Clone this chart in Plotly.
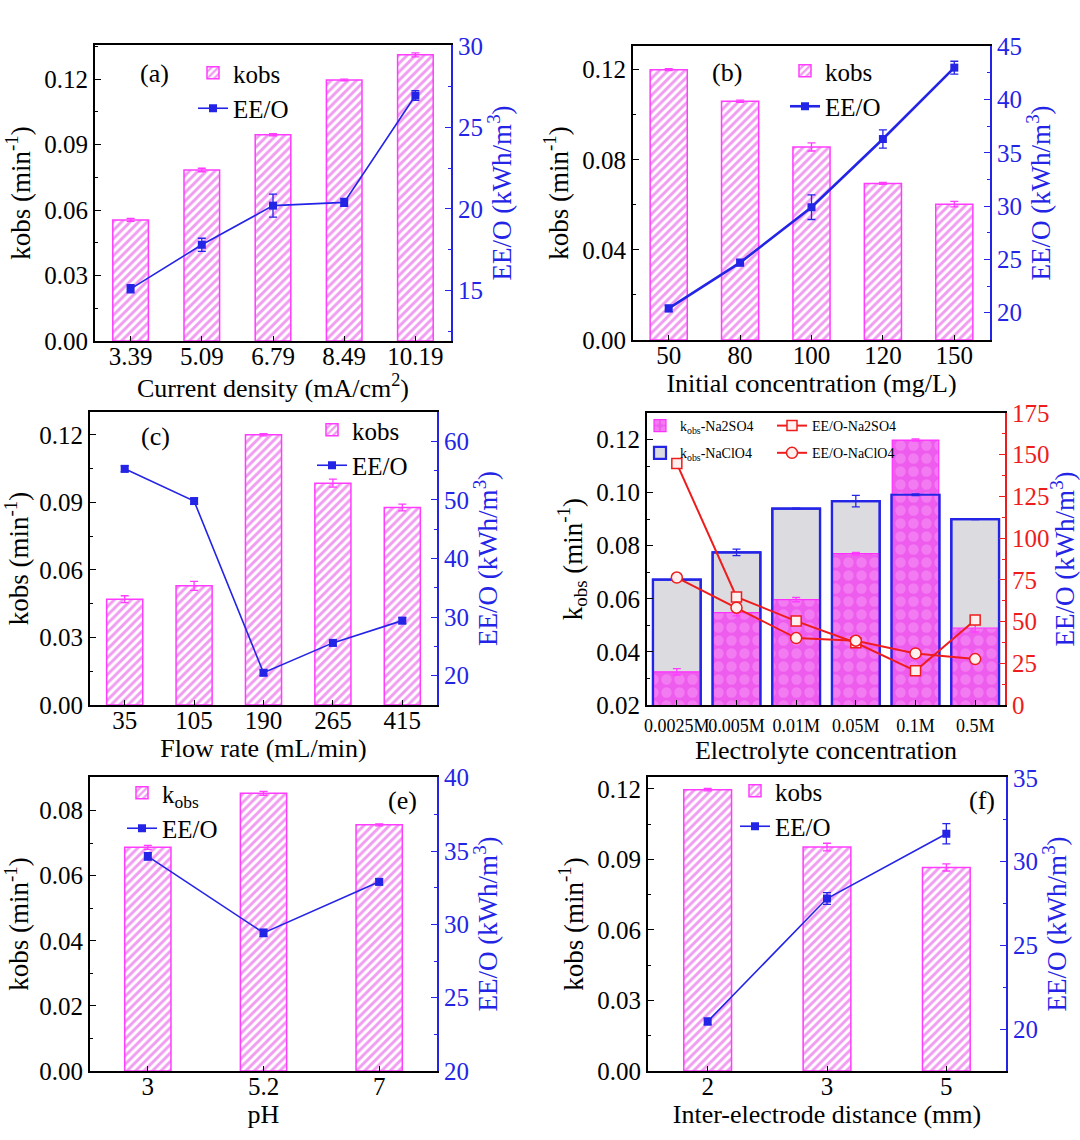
import plotly.graph_objects as go

W, H = 1080, 1140
FONT = "Liberation Serif"
BLUE = "#2424E6"
RED = "#EE1C1C"
MAG = "#E23AE2"
MAGB = "#FF3CFF"

# ---------------- data ----------------
a_cat = ["3.39", "5.09", "6.79", "8.49", "10.19"]
a_k = [0.0555, 0.0784, 0.0946, 0.1197, 0.1312]
a_k_err = [0.0007, 0.0008, 0.0005, 0.0004, 0.0009]
a_ee = [15.1, 17.8, 20.2, 20.4, 26.95]
a_ee_err = [0.25, 0.4, 0.7, 0.25, 0.3]

b_cat = ["50", "80", "100", "120", "150"]
b_k = [0.1200, 0.1060, 0.0857, 0.0695, 0.0603]
b_k_err = [0.0004, 0.0005, 0.0018, 0.0004, 0.0012]
b_ee = [20.4, 24.7, 29.9, 36.3, 43.0]
b_ee_err = [0.3, 0.3, 1.15, 0.85, 0.6]

c_cat = ["35", "105", "190", "265", "415"]
c_k = [0.0470, 0.0529, 0.1200, 0.0985, 0.0877]
c_k_err = [0.0015, 0.0020, 0.0005, 0.0018, 0.0015]
c_ee = [55.3, 49.8, 20.5, 25.6, 29.4]
c_ee_err = [0.5, 0.5, 0.5, 0.5, 0.5]

d_cat = ["0.0025M", "0.005M", "0.01M", "0.05M", "0.1M", "0.5M"]
d_k_na2so4 = [0.0325, 0.0548, 0.0597, 0.0770, 0.1198, 0.0490]
d_k_na2so4_err = [0.0012, 0.0012, 0.0008, 0.0005, 0.0004, 0.0015]
d_k_naclo4 = [0.0672, 0.0775, 0.0940, 0.0968, 0.0992, 0.0900]
d_k_naclo4_err = [0.0004, 0.0012, 0.0002, 0.0022, 0.0003, 0.0002]
d_ee_na2so4 = [144.7, 64.8, 50.3, 37.3, 20.5, 50.9]
d_ee_naclo4 = [76.4, 58.3, 40.1, 38.5, 30.9, 27.5]
d_ee_err = [1.5, 1.5, 1.5, 1.5, 1.5, 1.5]

e_cat = ["3", "5.2", "7"]
e_k = [0.0687, 0.0853, 0.0756]
e_k_err = [0.0006, 0.0006, 0.0003]
e_ee = [34.64, 29.42, 32.9]
e_ee_err = [0.25, 0.25, 0.2]

f_cat = ["2", "3", "5"]
f_k = [0.1197, 0.0953, 0.0866]
f_k_err = [0.0005, 0.0016, 0.0015]
f_ee = [20.46, 27.8, 31.67]
f_ee_err = [0.2, 0.35, 0.6]

# ---------------- helpers ----------------
def dx(x0, x1):
    return [x0 / W, x1 / W]

def dy(y0, y1):
    return [1 - y1 / H, 1 - y0 / H]

fig = go.Figure()

hatch = dict(shape="/", fgcolor=MAG, bgcolor="white", size=6, solidity=0.48)

def add_panel(i, cats, k, kerr, ee, eeerr, width, kname, legend, lw=1.6):
    xa = "x" if i == 1 else f"x{i}"
    yl = "y" if i == 1 else f"y{2*i-1}"
    yr = f"y{2*i}"
    fig.add_trace(go.Bar(
        x=cats, y=k, width=width, name=kname, xaxis=xa, yaxis=yl, legend=legend,
        marker=dict(color="white", pattern=hatch, line=dict(color=MAGB, width=1.5)),
        error_y=dict(type="data", array=kerr, color=MAGB, thickness=1.3, width=4),
    ))
    fig.add_trace(go.Scatter(
        x=cats, y=ee, name="EE/O", xaxis=xa, yaxis=yr, mode="lines+markers", legend=legend,
        line=dict(color=BLUE, width=lw), marker=dict(symbol="square", size=8, color=BLUE),
        error_y=dict(type="data", array=eeerr, color=BLUE, thickness=1.3, width=4),
    ))

add_panel(1, a_cat, a_k, a_k_err, a_ee, a_ee_err, 0.5, "kobs", "legend")
add_panel(2, b_cat, b_k, b_k_err, b_ee, b_ee_err, 0.52, "kobs", "legend2", lw=2.6)
add_panel(3, c_cat, c_k, c_k_err, c_ee, c_ee_err, 0.52, "kobs", "legend3")
add_panel(5, e_cat, e_k, e_k_err, e_ee, e_ee_err, 0.4, "k<sub>obs</sub>", "legend6")
add_panel(6, f_cat, f_k, f_k_err, f_ee, f_ee_err, 0.4, "kobs", "legend7")

# panel (d)
pinkfill = dict(shape=".", fgcolor="rgba(255,215,255,0.5)", bgcolor="#EE5CEE", size=13, solidity=0.5)
fig.add_trace(go.Bar(
    x=d_cat, y=d_k_naclo4, width=0.8, name="k<sub>obs</sub>-NaClO4", xaxis="x4", yaxis="y7",
    legend="legend4", legendrank=2, legendgroup="g2",
    marker=dict(color="#DCDCE0", line=dict(color=BLUE, width=2.2)),
))
fig.add_trace(go.Bar(
    x=d_cat, y=d_k_na2so4, width=0.78, name="k<sub>obs</sub>-Na2SO4", xaxis="x4", yaxis="y7",
    legend="legend4", legendrank=1, legendgroup="g1",
    marker=dict(color="#EE5CEE", pattern=pinkfill, line=dict(color="#FF30FF", width=1.2)),
    error_y=dict(type="data", array=d_k_na2so4_err, color=MAGB, thickness=1.3, width=4),
))
fig.add_trace(go.Bar(
    x=d_cat, y=d_k_naclo4, width=0.8, name="outline", xaxis="x4", yaxis="y7", showlegend=False,
    marker=dict(color="rgba(0,0,0,0)", line=dict(color=BLUE, width=2.2)),
    error_y=dict(type="data", array=d_k_naclo4_err, color=BLUE, thickness=1.3, width=4),
))
fig.add_trace(go.Scatter(
    x=d_cat, y=d_ee_na2so4, name="EE/O-Na2SO4", xaxis="x4", yaxis="y8", mode="lines+markers",
    legend="legend5", legendrank=1, legendgroup="g3",
    line=dict(color=RED, width=2), marker=dict(symbol="square", size=10, color="#FFF0F0", line=dict(color=RED, width=1.5)),
    error_y=dict(type="data", array=d_ee_err, color=RED, thickness=1, width=3),
))
fig.add_trace(go.Scatter(
    x=d_cat, y=d_ee_naclo4, name="EE/O-NaClO4", xaxis="x4", yaxis="y8", mode="lines+markers",
    legend="legend5", legendrank=2, legendgroup="g4",
    line=dict(color=RED, width=2), marker=dict(symbol="circle", size=11, color="#FFF0F0", line=dict(color=RED, width=1.5)),
    error_y=dict(type="data", array=d_ee_err, color=RED, thickness=1, width=3),
))

# ---------------- axes ----------------
TF = dict(family=FONT, size=25, color="black")

panels = [
    # i, xpix, ypix, ncat, xtitle, yl range, yl dtick, yr range, yr dtick
    (1, (95, 451), (45, 341), 5, "Current density (mA/cm<sup>2</sup>)", [0, 0.1357], 0.03, [11.9, 30.05], 5),
    (2, (633, 990), (46, 340), 5, "Initial concentration (mg/L)", [0, 0.1305], 0.04, [17.44, 45.03], 5),
    (3, (90, 437), (412, 705), 5, "Flow rate (mL/min)", [0, 0.1301], 0.03, [15, 65], 10),
    (4, (647, 1005), (413, 705), 6, "Electrolyte concentration", [0.02, 0.130], 0.02, [0, 175], 25),
    (5, (90, 437), (777, 1071), 3, "pH", [0, 0.0903], 0.02, [20, 40.05], 5),
    (6, (648, 1006), (777, 1071), 3, "Inter-electrode distance (mm)", [0, 0.1251], 0.03, [17.5, 35.06], 5),
]

lay = {}
for i, xp, yp, n, xt, ylr, yld, yrr, yrd in panels:
    xk = "xaxis" if i == 1 else f"xaxis{i}"
    ylk = "yaxis" if i == 1 else f"yaxis{2*i-1}"
    yrk = f"yaxis{2*i}"
    ylname = "y" if i == 1 else f"y{2*i-1}"
    xname = "x" if i == 1 else f"x{i}"
    rcol = RED if i == 4 else BLUE
    lay[xk] = dict(
        domain=dx(*xp), anchor=ylname, type="category", range=[-0.5, n - 0.5], automargin=False,
        showline=True, mirror=True, linecolor="black", linewidth=2,
        ticks="inside", ticklen=5, tickcolor="black", showgrid=False, tickangle=0,
        ticklabelstandoff=(3 if i == 4 else -8),
        tickfont=dict(family=FONT, size=18 if i == 4 else 25, color="black"),
        title=dict(text=xt, font=dict(family=FONT, size=26, color="black"), standoff=0),
    )
    lay[ylk] = dict(
        domain=dy(*yp), anchor=xname, range=ylr, dtick=yld, tick0=0, tickformat=".2f", automargin=False,
        showline=True, linecolor="black", linewidth=2, ticks="inside", ticklen=6,
        tickcolor="black", showgrid=False, zeroline=False, tickfont=TF,
        minor=dict(ticks="inside", ticklen=3, dtick=yld / 2, tickcolor="black", showgrid=False),
        title=dict(text=("k<sub>obs</sub> (min<sup>-1</sup>)" if i == 4 else "kobs (min<sup>-1</sup>)"),
                   font=dict(family=FONT, size=27, color="black"), standoff=6),
    )
    lay[yrk] = dict(
        domain=dy(*yp), anchor=xname, overlaying=ylname, side="right", range=yrr, dtick=yrd, tick0=0,
        automargin=False,
        showline=True, linecolor=rcol, linewidth=2, ticks="inside", ticklen=6, tickcolor=rcol,
        showgrid=False, zeroline=False, tickfont=dict(family=FONT, size=25, color=rcol),
        minor=dict(ticks="inside", ticklen=3, dtick=yrd / 2, tickcolor=rcol, showgrid=False),
        title=dict(text="EE/O (kWh/m<sup>3</sup>)", font=dict(family=FONT, size=27, color=BLUE), standoff=10),
    )

def leg(xp, yp, size=25, gap=0, order="normal"):
    return dict(x=xp / W, y=1 - yp / H, xanchor="left", yanchor="top", bgcolor="rgba(0,0,0,0)",
                font=dict(family=FONT, size=size, color="black"), tracegroupgap=gap,
                itemwidth=30, traceorder=order)

lay["legend"] = leg(193, 50)
lay["legend2"] = leg(785, 48)
lay["legend3"] = leg(312, 407)
lay["legend4"] = leg(640, 410, 14, 6, "grouped")
lay["legend5"] = leg(772, 410, 14, 6, "grouped")
lay["legend6"] = leg(122, 770)
lay["legend7"] = leg(735, 768)

ann = [
    ("(a)", 154, 74), ("(b)", 727, 73), ("(c)", 155, 436), ("(e)", 402, 800), ("(f)", 982, 800),
]
annotations = [dict(text=t, x=x / W, y=1 - y / H, xref="paper", yref="paper", showarrow=False,
                    xanchor="center", yanchor="middle",
                    font=dict(family=FONT, size=26, color="black")) for t, x, y in ann]

fig.update_layout(
    width=W, height=H, margin=dict(l=0, r=0, t=0, b=0, autoexpand=False), autosize=False,
    paper_bgcolor="white", plot_bgcolor="white", barmode="overlay",
    font=dict(family=FONT, size=25, color="black"),
    annotations=annotations, **lay,
)

fig.write_html("out.html")
